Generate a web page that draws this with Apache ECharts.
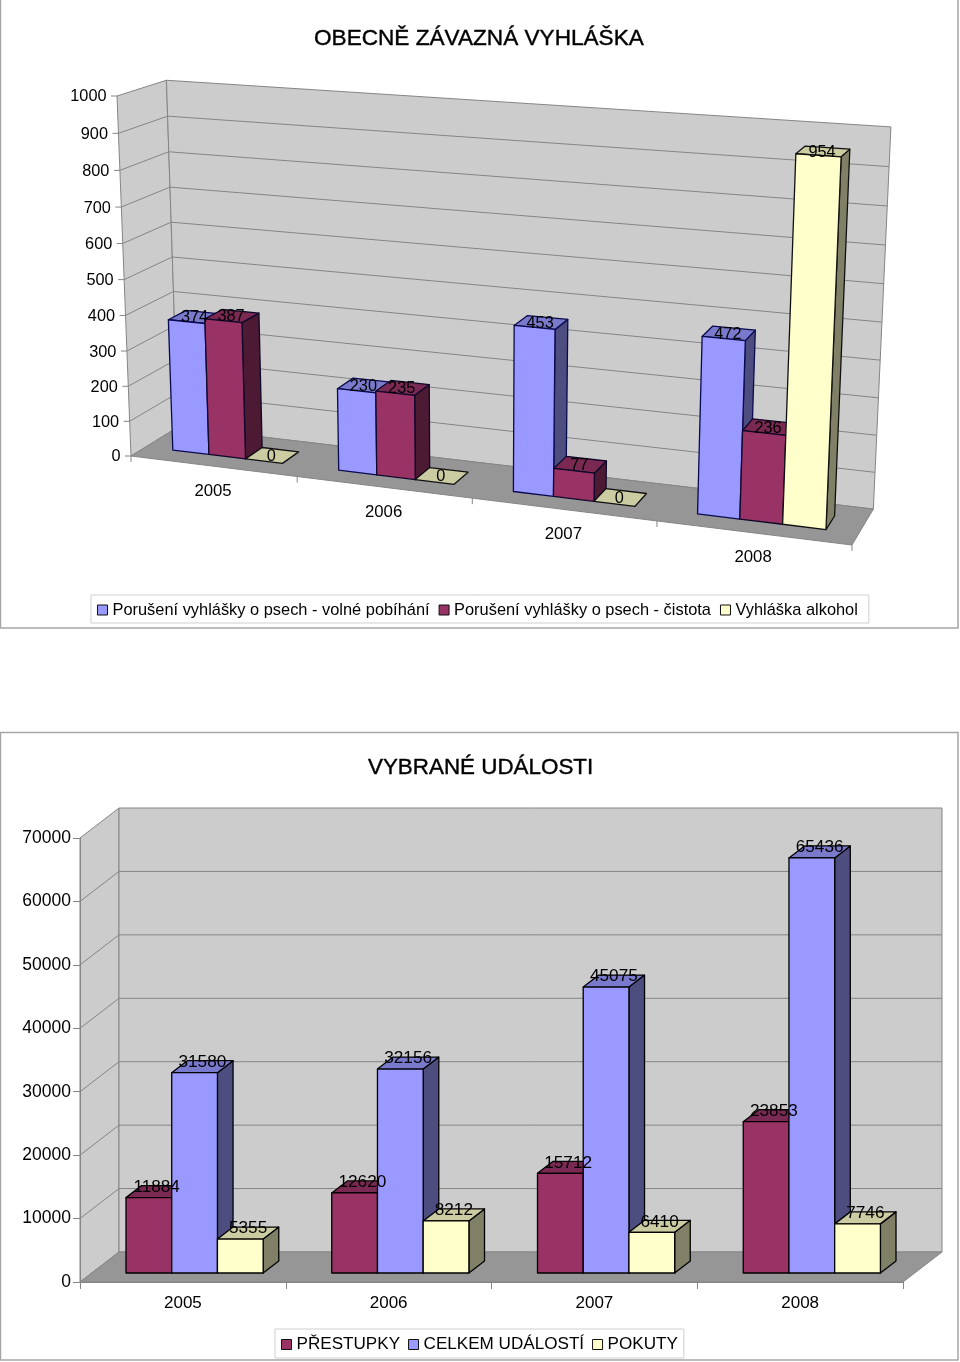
<!DOCTYPE html>
<html><head><meta charset="utf-8">
<style>html,body{margin:0;padding:0;background:#fff}#c{width:960px;height:1362px}</style>
<script src="https://cdn.jsdelivr.net/npm/echarts@6/dist/echarts.min.js"></script>
</head><body><div id="c"></div>
<script>
// ---- data ----
const years = ['2005','2006','2007','2008'];
const volnePobihani = [374,230,453,472];
const cistota = [387,235,77,236];
const alkohol = [0,0,0,954];
const prestupky = [11884,12620,15712,23853];
const celkemUdalosti = [31580,32156,45075,65436];
const pokuty = [5355,8212,6410,7746];
const ticksTop = [0,100,200,300,400,500,600,700,800,900,1000];
const ticksBottom = [0,10000,20000,30000,40000,50000,60000,70000];

// ---- style ----
const FONT = '"Liberation Sans", Arial, sans-serif';
const TXT = '#000';
const PAL = {
  blue:{front:'#9999FF',top:'#7A7ACC',side:'#4D4D80',stroke:'#0A0A50'},
  plum:{front:'#993366',top:'#7A2952',side:'#4D1A33',stroke:'#10082A'},
  yell:{front:'#FFFFCC',top:'#CCCCA3',side:'#808066',stroke:'#111'}
};
const WALL='#CCCCCC', FLOOR='#969696', EDGE='#858585';

// ---- perspective box of upper chart: (u,v,w) in unit cube -> screen ----
const FL0=[131,456],FL1=[117,96],BL0=[178,427],BL1=[165,79.5],BR0=[873,508],BR1=[891,127],FR0=[852,545];
function solve3(M,r){
  const A=M.map((row,i)=>row.concat(r[i]));
  for(let i=0;i<3;i++){
    let p=i;for(let k=i+1;k<3;k++)if(Math.abs(A[k][i])>Math.abs(A[p][i]))p=k;
    [A[i],A[p]]=[A[p],A[i]];
    for(let k=0;k<3;k++)if(k!==i){const f=A[k][i]/A[i][i];for(let j=i;j<4;j++)A[k][j]-=f*A[i][j];}
  }
  return [A[0][3]/A[0][0],A[1][3]/A[1][1],A[2][3]/A[2][2]];
}
const hom=(function(){
  const rows=[],rhs=[];
  for(let d=0;d<2;d++){
    rows.push([0,FL1[d]-BL1[d],BL0[d]-BL1[d]]);rhs.push(BL1[d]+FL0[d]-FL1[d]-BL0[d]);
    rows.push([FR0[d]-BR0[d],0,BL0[d]-BR0[d]]);rhs.push(BR0[d]+FL0[d]-FR0[d]-BL0[d]);
    rows.push([FR0[d]-BR1[d],FL1[d]-BR1[d],BL0[d]-BR1[d]]);rhs.push(BR1[d]+2*FL0[d]-FR0[d]-FL1[d]-BL0[d]);
  }
  const N=[0,1,2].map(i=>[0,1,2].map(j=>rows.reduce((s,r)=>s+r[i]*r[j],0)));
  const t=[0,1,2].map(i=>rows.reduce((s,r,k)=>s+r[i]*rhs[k],0));
  const [a,b,c]=solve3(N,t);
  const mk=(P,k)=>[0,1].map(d=>(k+1)*P[d]-FL0[d]);
  return {a,b,c,A:mk(FR0,a),B:mk(FL1,b),C:mk(BL0,c)};
})();
function P3(u,v,w){
  const q=hom.a*u+hom.b*v+hom.c*w+1;
  return [0,1].map(d=>(hom.A[d]*u+hom.B[d]*v+hom.C[d]*w+FL0[d])/q);
}
const W0=0.31,W1=0.69;

function seg(a,b,stroke,z2,lw){return {type:'line',shape:{x1:a[0],y1:a[1],x2:b[0],y2:b[1]},style:{stroke:stroke,lineWidth:lw||1},z2:z2};}
function poly(pts,fill,stroke,z2,lw){return {type:'polygon',shape:{points:pts},style:{fill:fill,stroke:stroke,lineWidth:lw==null?1:lw,lineJoin:'round'},z2:z2};}
function txt(s,x,y,size,align,z2){return {type:'text',x:x,y:y,style:{text:String(s),fontSize:size,fontFamily:FONT,fill:TXT,align:align||'center',verticalAlign:'middle'},z2:z2==null?100:z2};}

// upper chart: wall / floor / axis furniture
function renderTopFrame(params,api){
  const g=params.coordSys, ch=[];
  const vOf=t=>(g.y+g.height-api.coord([0,t])[1])/g.height;
  ch.push(poly([P3(0,0,0),P3(0,1,0),P3(0,1,1),P3(0,0,1)],WALL,EDGE,1));
  ch.push(poly([P3(0,0,1),P3(0,1,1),P3(1,1,1),P3(1,0,1)],WALL,EDGE,1));
  ch.push(poly([P3(0,0,0),P3(0,0,1),P3(1,0,1),P3(1,0,0)],FLOOR,EDGE,2));
  ticksTop.forEach(t=>{
    const v=vOf(t), f=P3(0,v,0);
    if(t>0&&t<1000){ch.push(seg(f,P3(0,v,1),EDGE,3));ch.push(seg(P3(0,v,1),P3(1,v,1),EDGE,3));}
    ch.push(seg([f[0]-6,f[1]],f,EDGE,3));
    ch.push(txt(t,f[0]-10.5,f[1]+1,16.3,'right',50));
  });
  years.forEach((y,i)=>{
    const u=(api.coord([i,0])[0]-g.x)/g.width;
    const p=P3(u,0,0);
    ch.push(txt(y,p[0],p[1]+25,16.8,'center',50));
    const e=P3(i/years.length,0,0);
    ch.push(seg(e,[e[0],e[1]+6],EDGE,3));
  });
  const e=P3(1,0,0);ch.push(seg(e,[e[0],e[1]+6],EDGE,3));
  return {type:'group',children:ch};
}
function topBars(pal,slot){
  return function(params,api){
    const g=params.coordSys, i=api.value(0), val=api.value(1);
    const band=api.size([1,0])[0], cx=api.coord([i,0])[0];
    const bw=band*2/9, xl=cx-band/2+band/6+slot*bw;
    const u0=(xl-g.x)/g.width,u1=(xl+bw-g.x)/g.width;
    const v=(g.y+g.height-api.coord([i,val])[1])/g.height;
    const z=10+i*10+slot*3;
    const ch=[];
    if(val>0){
      ch.push(poly([P3(u1,0,W0),P3(u1,v,W0),P3(u1,v,W1),P3(u1,0,W1)],pal.side,pal.stroke,z,1.3));
      ch.push(poly([P3(u0,0,W0),P3(u0,v,W0),P3(u1,v,W0),P3(u1,0,W0)],pal.front,pal.stroke,z+2,1.3));
    }
    ch.push(poly([P3(u0,v,W0),P3(u1,v,W0),P3(u1,v,W1),P3(u0,v,W1)],pal.top,pal.stroke,z+1,1.3));
    const c=P3((u0+u1)/2,v,(W0+W1)/2);
    ch.push(txt(val,c[0]-1,c[1]+1,16.3));
    return {type:'group',children:ch};
  };
}

// lower chart
const DX=39,DY=-30;
function renderBottomFrame(params,api){
  const g=params.coordSys, ch=[];
  const L=g.x,R=g.x+g.width,B=g.y+g.height,T=g.y;
  ch.push(poly([[L,B],[L,T],[L+DX,T+DY],[L+DX,B+DY]],WALL,EDGE,1));
  ch.push(poly([[L+DX,T+DY],[R+DX,T+DY],[R+DX,B+DY],[L+DX,B+DY]],WALL,EDGE,1));
  ch.push(poly([[L,B],[L+DX,B+DY],[R+DX,B+DY],[R,B]],FLOOR,EDGE,2));
  ticksBottom.forEach(t=>{
    if(t===0||t===70000)return;
    const y=api.coord([0,t])[1];
    ch.push(seg([L,y],[L+DX,y+DY],EDGE,3));
    ch.push(seg([L+DX,y+DY],[R+DX,y+DY],EDGE,3));
  });
  return {type:'group',children:ch};
}
function bottomBars(pal,slot){
  const ox=11.7,oy=-9,dx=15.6,dy=-12;
  return function(params,api){
    const i=api.value(0),val=api.value(1);
    const band=api.size([1,0])[0],cx=api.coord([i,0])[0];
    const bw=band*2/9,x0=cx-band/2+band/6+slot*bw+ox,x1=x0+bw;
    const yb=api.coord([i,0])[1]+oy,yt=api.coord([i,val])[1]+oy;
    const z=10+i*10+slot*3;
    return {type:'group',children:[
      poly([[x1,yb],[x1,yt],[x1+dx,yt+dy],[x1+dx,yb+dy]],pal.side,'#000',z,1.3),
      poly([[x0,yt],[x1,yt],[x1+dx,yt+dy],[x0+dx,yt+dy]],pal.top,'#000',z+1,1.3),
      poly([[x0,yb],[x0,yt],[x1,yt],[x1,yb]],pal.front,'#000',z+2,1.3),
      txt(val,(x0+x1)/2+dx/2,yt-10.5,17.2)
    ]};
  };
}
const encode=a=>a.map((v,i)=>[i,v]);
function custom(name,renderItem,data,gi,color){
  const s={type:'custom',name:name,renderItem:renderItem,data:data,xAxisIndex:gi,yAxisIndex:gi,silent:true,clip:false,encode:{x:0,y:1}};
  if(color)s.itemStyle={color:color};
  return s;
}
const N1='Porušení vyhlášky o psech - volné pobíhání',N2='Porušení vyhlášky o psech - čistota',N3='Vyhláška alkohol';
const N4='PŘESTUPKY',N5='CELKEM UDÁLOSTÍ',N6='POKUTY';

const axisLine={lineStyle:{color:EDGE,width:1}};
const chart=echarts.init(document.getElementById('c'),null,{renderer:'canvas'});
chart.setOption({
  animation:false,
  backgroundColor:'#fff',
  textStyle:{fontFamily:FONT},
  graphic:[
    {type:'rect',shape:{x:0.5,y:-2,width:957.5,height:630},style:{fill:'none',stroke:'#A6A6A6',lineWidth:1.5},silent:true},
    {type:'rect',shape:{x:0.5,y:732.5,width:957.5,height:627.5},style:{fill:'none',stroke:'#A6A6A6',lineWidth:1.5},silent:true}
  ],
  title:[
    {text:'OBECNĚ ZÁVAZNÁ VYHLÁŠKA',left:314,top:27,padding:0,textStyle:{fontSize:22.6,fontWeight:'normal',color:'#000',fontFamily:FONT,textBorderColor:'#000',textBorderWidth:0.4}},
    {text:'VYBRANÉ UDÁLOSTI',left:368,top:756.5,padding:0,textStyle:{fontSize:22.4,fontWeight:'normal',color:'#000',fontFamily:FONT,textBorderColor:'#000',textBorderWidth:0.4}}
  ],
  legend:[
    {data:[N1,N2,N3],left:91,top:595,orient:'horizontal',selectedMode:false,icon:'rect',itemWidth:10,itemHeight:10,itemGap:9,
     padding:[7,11,5,6],borderColor:'#CFCFCF',borderWidth:1,backgroundColor:'#fff',
     itemStyle:{borderColor:'#111',borderWidth:1},textStyle:{fontSize:16.4,color:TXT,fontFamily:FONT}},
    {data:[N4,N5,N6],left:275,top:1329,orient:'horizontal',selectedMode:false,icon:'rect',itemWidth:10,itemHeight:10,itemGap:8,
     padding:[7,6,5,6],borderColor:'#CFCFCF',borderWidth:1,backgroundColor:'#fff',
     itemStyle:{borderColor:'#111',borderWidth:1},textStyle:{fontSize:17.1,color:TXT,fontFamily:FONT}}
  ],
  grid:[
    {left:131,top:96,width:721,height:360},
    {left:80,top:838,width:823,height:444}
  ],
  xAxis:[
    {gridIndex:0,type:'category',data:years,show:false},
    {gridIndex:1,type:'category',data:years,z:5,axisLine:axisLine,
     axisTick:{show:true,length:7,lineStyle:{color:EDGE}},
     axisLabel:{fontSize:17,color:TXT,margin:13,fontFamily:FONT}}
  ],
  yAxis:[
    {gridIndex:0,type:'value',min:0,max:1000,interval:100,show:false},
    {gridIndex:1,type:'value',min:0,max:70000,interval:10000,z:5,axisLine:Object.assign({show:true},axisLine),
     axisTick:{show:true,length:7,lineStyle:{color:EDGE}},splitLine:{show:false},
     axisLabel:{fontSize:17.5,color:TXT,margin:9,fontFamily:FONT,padding:[4,0,0,0],formatter:v=>String(v)}}
  ],
  series:[
    custom('frameTop',renderTopFrame,[[0,0]],0),
    custom(N1,topBars(PAL.blue,0),encode(volnePobihani),0,PAL.blue.front),
    custom(N2,topBars(PAL.plum,1),encode(cistota),0,PAL.plum.front),
    custom(N3,topBars(PAL.yell,2),encode(alkohol),0,PAL.yell.front),
    custom('frameBottom',renderBottomFrame,[[0,0]],1),
    custom(N4,bottomBars(PAL.plum,0),encode(prestupky),1,PAL.plum.front),
    custom(N5,bottomBars(PAL.blue,1),encode(celkemUdalosti),1,PAL.blue.front),
    custom(N6,bottomBars(PAL.yell,2),encode(pokuty),1,PAL.yell.front)
  ]
});
</script></body></html>
